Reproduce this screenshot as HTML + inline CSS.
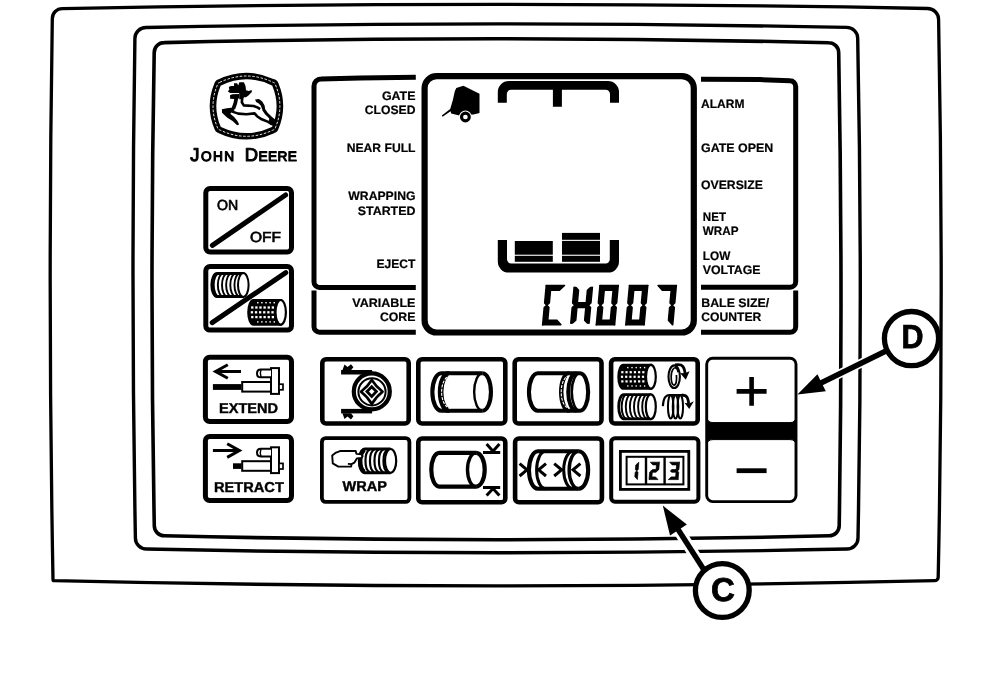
<!DOCTYPE html>
<html><head><meta charset="utf-8"><title>Monitor panel</title>
<style>
html,body{margin:0;padding:0;background:#fff;}
body{width:992px;height:692px;overflow:hidden;font-family:"Liberation Sans",sans-serif;}
svg{display:block;filter:grayscale(1);}
svg text{stroke:#000;stroke-width:0.2px;text-rendering:geometricPrecision;font-family:"Liberation Sans",sans-serif;fill:#000;}
</style></head><body>
<svg width="992" height="692" viewBox="0 0 992 692" shape-rendering="geometricPrecision">
<rect width="992" height="692" fill="#fff"/>
<path d="M62.3,8.6 Q494.95,0.25 927.6,8.5 A11,11 0 0 1 938.6,19.5 Q944.0,298.3 938.2,577.1 A3.5,3.5 0 0 1 934.7,580.6 Q494.45000000000005,590.9999999999999 54.2,580.6 A1.2,1.2 0 0 1 53,579.4 Q47.75000000000001,299.0 52.3,18.6 A10,10 0 0 1 62.3,8.6 Z" fill="none" stroke="#000" stroke-width="3.3" stroke-linejoin="miter"/>
<path d="M145.9,27.5 Q496.3,20.349999999999998 846.7,27.4 A11,11 0 0 1 857.7,38.4 Q862.7499999999999,288.2 858,538 A11,11 0 0 1 847,549 Q496.7,556.5999999999999 146.4,549 A11,11 0 0 1 135.4,538 Q130.85,288.25 134.9,38.5 A11,11 0 0 1 145.9,27.5 Z" fill="none" stroke="#000" stroke-width="3.4" stroke-linejoin="miter"/>
<path d="M164.2,42.6 Q496.45000000000005,34.94999999999999 828.7,42.7 A10,10 0 0 1 838.7,52.7 Q843.05,289.25 839.2,525.8 A10,10 0 0 1 829.2,535.8 Q496.75,543.6000000000001 164.3,535.8 A10,10 0 0 1 154.3,525.8 Q149.75,289.2 154.2,52.6 A10,10 0 0 1 164.2,42.6 Z" fill="none" stroke="#000" stroke-width="3.6" stroke-linejoin="miter"/>
<g id="logo">
<path d="M219.6,82.39999999999999 Q246.45,69.60000000000001 273.29999999999995,82.39999999999999 Q274.9,82.8 275.29999999999995,84.39999999999999 Q284.5,106.15 275.29999999999995,127.9 Q274.9,129.5 273.29999999999995,129.9 Q246.45,142.7 219.6,129.9 Q218.0,129.5 217.6,127.9 Q208.39999999999998,106.15 217.6,84.39999999999999 Q218.0,82.8 219.6,82.39999999999999 Z" fill="#fff" stroke="#000" stroke-width="6.6" stroke-linejoin="round"/>
<path d="M219.6,82.39999999999999 Q246.45,69.60000000000001 273.29999999999995,82.39999999999999 Q274.9,82.8 275.29999999999995,84.39999999999999 Q284.5,106.15 275.29999999999995,127.9 Q274.9,129.5 273.29999999999995,129.9 Q246.45,142.7 219.6,129.9 Q218.0,129.5 217.6,127.9 Q208.39999999999998,106.15 217.6,84.39999999999999 Q218.0,82.8 219.6,82.39999999999999 Z" fill="none" stroke="#fff" stroke-width="0.9" stroke-dasharray="2.6 1.6"/>
<path d="M227.88,91.60 L229.34,89.50 L228.77,87.07 L230.96,85.94 L234.03,86.10 L234.03,83.18 L237.11,83.18 L238.24,85.45 L239.38,82.37 L243.91,82.37 L245.53,86.10 L246.02,90.15 L248.77,91.12 L251.68,89.98 L251.85,91.93 L248.45,95.49 L246.02,97.27 L244.07,97.27 L242.29,99.21 L239.21,99.21 L239.21,93.06 L230.15,93.06 Z" fill="#000"/>
<path d="M229.98,95.17 L232.25,94.19 L239.21,94.03 L239.21,97.43 L237.92,99.21 L230.15,98.65 Z" fill="#000"/>
<path d="M236.46,97.43 L235.33,103.10 L233.38,108.61" fill="none" stroke="#000" stroke-width="3.7" stroke-linejoin="round"/>
<path d="M242.29,97.43 L241.81,102.29 L243.75,105.37 L253.63,106.02 L257.84,107.64 L260.11,109.09" fill="none" stroke="#000" stroke-width="2.6" stroke-linejoin="round"/>
<path d="M221.89,109.26 L226.91,108.28 L233.87,107.47 L234.52,110.55 L231.93,111.68 L230.31,113.63 L234.19,117.03 L237.43,120.91 L239.21,124.48 L237.11,125.13 L232.57,120.91 L227.07,117.51 L222.05,112.66 Z" fill="#000"/>
<path d="M231.60,111.36 L238.24,113.63 L246.34,114.19 L254.60,113.38 L257.03,116.22 L261.72,119.30 L268.20,121.89 L272.09,124.32" fill="none" stroke="#000" stroke-width="2.6" stroke-linejoin="round"/>
<path d="M255.09,99.54 L258.97,99.05 L262.21,101.48 L264.48,105.21 L265.13,108.45 L264.48,110.71 L262.21,109.42 L260.91,105.69 L258.49,103.26 L256.06,101.97 Z" fill="#000"/>
<path d="M263.34,109.09 L266.58,113.79 L270.79,117.84 L274.68,121.24" fill="none" stroke="#000" stroke-width="3" stroke-linejoin="round"/>
<path d="M269.82,116.87 L274.68,120.11 L274.68,127.39 L271.04,124.56 L268.61,121.72 Z" fill="#000"/>
</g>
<text x="190.3" y="161.0" font-weight="normal" textLength="43.8" lengthAdjust="spacing" style="stroke-width:1.05px;stroke-linejoin:round"><tspan font-size="18.4">J</tspan><tspan font-size="13.7">OHN</tspan></text>
<text x="244.8" y="161.0" font-weight="normal" textLength="52.0" lengthAdjust="spacing" style="stroke-width:1.05px;stroke-linejoin:round"><tspan font-size="18.4">D</tspan><tspan font-size="13.7">EERE</tspan></text>
<rect x="205.8" y="188.5" width="85.69999999999999" height="63.400000000000006" rx="4.2" ry="4.2" fill="#fff" stroke="#000" stroke-width="5"/>
<line x1="212.4" y1="245.4" x2="285.6" y2="195" stroke="#000" stroke-width="5" stroke-linecap="round"/>
<text x="216.9" y="209.7" font-size="14.6" font-weight="normal" text-anchor="start" textLength="21.2" lengthAdjust="spacingAndGlyphs" style="stroke-width:0.65px">ON</text>
<text x="249.9" y="241.7" font-size="14.6" font-weight="normal" text-anchor="start" textLength="31" lengthAdjust="spacingAndGlyphs" style="stroke-width:0.65px">OFF</text>
<rect x="205.8" y="266.5" width="85.69999999999999" height="63.60000000000002" rx="4.2" ry="4.2" fill="#fff" stroke="#000" stroke-width="5"/>
<path d="M243.29999999999998,273.5 L217.10000000000002,273.5 A5.3,11.5 0 0 0 217.10000000000002,296.5 L243.29999999999998,296.5" fill="#fff" stroke="#000" stroke-width="2.8"/>
<path d="M219.00,273.5 A5.3,11.5 0 0 0 219.00,296.5" fill="none" stroke="#000" stroke-width="1.9"/>
<path d="M223.15,273.5 A5.3,11.5 0 0 0 223.15,296.5" fill="none" stroke="#000" stroke-width="1.9"/>
<path d="M227.30,273.5 A5.3,11.5 0 0 0 227.30,296.5" fill="none" stroke="#000" stroke-width="1.9"/>
<path d="M231.45,273.5 A5.3,11.5 0 0 0 231.45,296.5" fill="none" stroke="#000" stroke-width="1.9"/>
<path d="M235.60,273.5 A5.3,11.5 0 0 0 235.60,296.5" fill="none" stroke="#000" stroke-width="1.9"/>
<path d="M239.75,273.5 A5.3,11.5 0 0 0 239.75,296.5" fill="none" stroke="#000" stroke-width="1.9"/>
<ellipse cx="243.29999999999998" cy="285" rx="5.3" ry="11.9" fill="#fff" stroke="#000" stroke-width="2.0"/>
<path d="M280.7,300.0 L253.49999999999997,300.0 A5.2,12.3 0 0 0 253.49999999999997,324.6 L280.7,324.6 Z" fill="#000" stroke="#000" stroke-width="2.2"/>
<rect x="257.06" y="301.99" width="1.43" height="1.43" fill="#fff"/><rect x="261.18" y="301.99" width="1.43" height="1.43" fill="#fff"/><rect x="265.30" y="301.99" width="1.43" height="1.43" fill="#fff"/><rect x="269.42" y="301.99" width="1.43" height="1.43" fill="#fff"/><rect x="273.54" y="301.99" width="1.43" height="1.43" fill="#fff"/><rect x="251.12" y="306.35" width="2.30" height="2.30" fill="#fff"/><rect x="255.24" y="306.35" width="2.30" height="2.30" fill="#fff"/><rect x="259.36" y="306.35" width="2.30" height="2.30" fill="#fff"/><rect x="263.48" y="306.35" width="2.30" height="2.30" fill="#fff"/><rect x="267.60" y="306.35" width="2.30" height="2.30" fill="#fff"/><rect x="271.72" y="306.35" width="2.30" height="2.30" fill="#fff"/><rect x="250.75" y="311.15" width="2.30" height="2.30" fill="#fff"/><rect x="254.87" y="311.15" width="2.30" height="2.30" fill="#fff"/><rect x="258.99" y="311.15" width="2.30" height="2.30" fill="#fff"/><rect x="263.11" y="311.15" width="2.30" height="2.30" fill="#fff"/><rect x="267.23" y="311.15" width="2.30" height="2.30" fill="#fff"/><rect x="271.35" y="311.15" width="2.30" height="2.30" fill="#fff"/><rect x="251.12" y="315.95" width="2.30" height="2.30" fill="#fff"/><rect x="255.24" y="315.95" width="2.30" height="2.30" fill="#fff"/><rect x="259.36" y="315.95" width="2.30" height="2.30" fill="#fff"/><rect x="263.48" y="315.95" width="2.30" height="2.30" fill="#fff"/><rect x="267.60" y="315.95" width="2.30" height="2.30" fill="#fff"/><rect x="271.72" y="315.95" width="2.30" height="2.30" fill="#fff"/><rect x="257.06" y="321.19" width="1.43" height="1.43" fill="#fff"/><rect x="261.18" y="321.19" width="1.43" height="1.43" fill="#fff"/><rect x="265.30" y="321.19" width="1.43" height="1.43" fill="#fff"/><rect x="269.42" y="321.19" width="1.43" height="1.43" fill="#fff"/><rect x="273.54" y="321.19" width="1.43" height="1.43" fill="#fff"/>
<ellipse cx="280.7" cy="312.3" rx="5.2" ry="12.3" fill="#fff" stroke="#000" stroke-width="2.2"/>
<line x1="212.2" y1="322.6" x2="285.8" y2="272.6" stroke="#000" stroke-width="5" stroke-linecap="round"/>
<path d="M415.8,77.3 L360,78 L321,78.9 A7,7 0 0 0 314,85.9 L314,281.9 A5.5,5.5 0 0 0 319.5,287.4 L415.8,287.4" fill="none" stroke="#000" stroke-width="5"/>
<path d="M314,290.5 L314,326.7 A5.5,5.5 0 0 0 319.5,332.2 L415.8,332.2" fill="none" stroke="#000" stroke-width="5"/>
<path d="M701,79.3 L760,79.6 L790,80.8 A5.7,5.7 0 0 1 795.7,86.5 L795.7,281.7 A5.5,5.5 0 0 1 790.2,287.2 L701,287.2" fill="none" stroke="#000" stroke-width="5"/>
<path d="M795.7,290.5 L795.7,326.8 A5.5,5.5 0 0 1 790.2,332.3 L701,332.3" fill="none" stroke="#000" stroke-width="5"/>
<rect x="424.6" y="76.1" width="269.2" height="256.4" rx="12" ry="12" fill="#fff" stroke="#000" stroke-width="6.2"/>
<text x="415.5" y="100.4" font-size="12.3" font-weight="bold" text-anchor="end" textLength="33.6" lengthAdjust="spacingAndGlyphs" >GATE</text>
<text x="415.5" y="114.4" font-size="12.3" font-weight="bold" text-anchor="end" textLength="50.7" lengthAdjust="spacingAndGlyphs" >CLOSED</text>
<text x="415.5" y="152.1" font-size="12.3" font-weight="bold" text-anchor="end" textLength="68.8" lengthAdjust="spacingAndGlyphs" >NEAR FULL</text>
<text x="415.5" y="200.1" font-size="12.3" font-weight="bold" text-anchor="end" textLength="67.2" lengthAdjust="spacingAndGlyphs" >WRAPPING</text>
<text x="415.5" y="214.8" font-size="12.3" font-weight="bold" text-anchor="end" textLength="57.8" lengthAdjust="spacingAndGlyphs" >STARTED</text>
<text x="415.5" y="268.1" font-size="12.3" font-weight="bold" text-anchor="end" textLength="39" lengthAdjust="spacingAndGlyphs" >EJECT</text>
<text x="415.5" y="306.9" font-size="12.3" font-weight="bold" text-anchor="end" textLength="63.3" lengthAdjust="spacingAndGlyphs" >VARIABLE</text>
<text x="415.5" y="320.9" font-size="12.3" font-weight="bold" text-anchor="end" textLength="35.6" lengthAdjust="spacingAndGlyphs" >CORE</text>
<text x="701" y="107.8" font-size="12.3" font-weight="bold" text-anchor="start" textLength="43.4" lengthAdjust="spacingAndGlyphs" >ALARM</text>
<text x="701" y="152.1" font-size="12.3" font-weight="bold" text-anchor="start" textLength="72.2" lengthAdjust="spacingAndGlyphs" >GATE OPEN</text>
<text x="701" y="189" font-size="12.3" font-weight="bold" text-anchor="start" textLength="61.8" lengthAdjust="spacingAndGlyphs" >OVERSIZE</text>
<text x="702.8" y="221.1" font-size="12.3" font-weight="bold" text-anchor="start" textLength="23.2" lengthAdjust="spacingAndGlyphs" >NET</text>
<text x="702.8" y="235" font-size="12.3" font-weight="bold" text-anchor="start" textLength="35.7" lengthAdjust="spacingAndGlyphs" >WRAP</text>
<text x="702.8" y="259.9" font-size="12.3" font-weight="bold" text-anchor="start" textLength="27.5" lengthAdjust="spacingAndGlyphs" >LOW</text>
<text x="702.8" y="274.1" font-size="12.3" font-weight="bold" text-anchor="start" textLength="57.8" lengthAdjust="spacingAndGlyphs" >VOLTAGE</text>
<text x="701.2" y="307.1" font-size="12.3" font-weight="bold" text-anchor="start" textLength="68.1" lengthAdjust="spacingAndGlyphs" >BALE SIZE/</text>
<text x="701.2" y="321.2" font-size="12.3" font-weight="bold" text-anchor="start" textLength="60.1" lengthAdjust="spacingAndGlyphs" >COUNTER</text>
<path d="M456.3,87.9 L463.4,85.7 L479.5,93.8 L479.5,113 L473.5,114.6 L459.3,115.6 L451.2,113.6 L450.6,111.2 L442.6,116.8 L441.8,115.4 L450.2,109 L452.8,100.3 L454.8,91.2 Z" fill="#000"/>
<circle cx="465.4" cy="117" r="6.4" fill="#fff"/>
<circle cx="465.4" cy="117" r="3.9" fill="#fff" stroke="#000" stroke-width="3.1"/>
<path d="M497.8,102.8 L497.8,92 A11,11 0 0 1 508.8,81 L608,81 A11,11 0 0 1 619,92 L619,102.8 L610,102.8 L610,94 A4.3,4.3 0 0 0 605.7,89.7 L561.9,89.7 L561.9,106.8 L552.9,106.8 L552.9,89.7 L511.1,89.7 A4.3,4.3 0 0 0 506.8,94 L506.8,102.8 Z" fill="#000"/>
<path d="M497.8,240 L497.8,261.6 A11,11 0 0 0 508.8,272.6 L608,272.6 A11,11 0 0 0 619,261.6 L619,240 L609.8,240 L609.8,259.2 A4.2,4.2 0 0 1 605.6,263.4 L511.2,263.4 A4.2,4.2 0 0 1 507,259.2 L507,240 Z" fill="#000"/>
<rect x="514.8" y="241" width="38" height="13.7" fill="#000"/>
<rect x="514.8" y="255.8" width="38" height="6" fill="#000"/>
<rect x="562" y="232.9" width="38" height="6.9" fill="#000"/>
<rect x="562" y="240.9" width="38" height="13.8" fill="#000"/>
<rect x="562" y="255.8" width="38" height="6" fill="#000"/>
<g transform="translate(0,325.6) skewX(-5.3) translate(0,-325.6)" fill="#000" stroke="#000" stroke-width="1.5" stroke-linejoin="round">
<clipPath id="hclip"><rect x="560" y="286.7" width="40" height="37.0"/></clipPath>
<polygon points="542.55,285.55 560.85,285.55 556.15,290.25 547.25,290.25"/><polygon points="542.55,285.55 547.25,290.25 547.25,302.85 544.90,305.20 542.55,302.85"/><polygon points="542.55,324.85 547.25,320.15 547.25,307.55 544.90,305.20 542.55,307.55"/><polygon points="542.55,324.85 560.85,324.85 556.15,320.15 547.25,320.15"/>
<g clip-path="url(#hclip)"><polygon points="570.55,285.55 575.25,290.25 575.25,302.85 572.90,305.20 570.55,302.85"/><polygon points="570.55,324.85 575.25,320.15 575.25,307.55 572.90,305.20 570.55,307.55"/><polygon points="572.90,305.20 575.25,302.85 584.15,302.85 586.50,305.20 584.15,307.55 575.25,307.55"/><polygon points="588.85,285.55 584.15,290.25 584.15,302.85 586.50,305.20 588.85,302.85"/><polygon points="588.85,324.85 584.15,320.15 584.15,307.55 586.50,305.20 588.85,307.55"/></g>
<polygon points="596.25,285.55 614.55,285.55 609.85,290.25 600.95,290.25"/><polygon points="614.55,285.55 609.85,290.25 609.85,302.85 612.20,305.20 614.55,302.85"/><polygon points="614.55,324.85 609.85,320.15 609.85,307.55 612.20,305.20 614.55,307.55"/><polygon points="596.25,324.85 614.55,324.85 609.85,320.15 600.95,320.15"/><polygon points="596.25,324.85 600.95,320.15 600.95,307.55 598.60,305.20 596.25,307.55"/><polygon points="596.25,285.55 600.95,290.25 600.95,302.85 598.60,305.20 596.25,302.85"/>
<polygon points="625.75,285.55 644.05,285.55 639.35,290.25 630.45,290.25"/><polygon points="644.05,285.55 639.35,290.25 639.35,302.85 641.70,305.20 644.05,302.85"/><polygon points="644.05,324.85 639.35,320.15 639.35,307.55 641.70,305.20 644.05,307.55"/><polygon points="625.75,324.85 644.05,324.85 639.35,320.15 630.45,320.15"/><polygon points="625.75,324.85 630.45,320.15 630.45,307.55 628.10,305.20 625.75,307.55"/><polygon points="625.75,285.55 630.45,290.25 630.45,302.85 628.10,305.20 625.75,302.85"/>
<polygon points="654.35,285.55 672.65,285.55 667.95,290.25 659.05,290.25"/><polygon points="672.65,285.55 667.95,290.25 667.95,302.85 670.30,305.20 672.65,302.85"/><polygon points="672.65,324.85 667.95,320.15 667.95,307.55 670.30,305.20 672.65,307.55"/>
</g>
<rect x="205.4" y="357.3" width="86.1" height="64.19999999999999" rx="4.2" ry="4.2" fill="#fff" stroke="#000" stroke-width="5"/>
<g transform="translate(0,0)">
<rect x="271" y="368.1" width="8" height="25.8" fill="#fff" stroke="#000" stroke-width="2"/>
<path d="M271,369.5 L260.8,369.5 Q257,369.5 257,373.4 Q257,377.3 260.8,377.3 L271,377.3" fill="#fff" stroke="#000" stroke-width="2"/>
<path d="M261,369.8 Q259.6,373.4 261,377" fill="none" stroke="#000" stroke-width="1.4"/>
<rect x="242.2" y="382" width="28.8" height="9.6" fill="#fff" stroke="#000" stroke-width="2"/>
<rect x="279" y="384.2" width="4" height="5.6" fill="#fff" stroke="#000" stroke-width="1.7"/>
</g>
<rect x="212.9" y="384.1" width="28.6" height="5.8" fill="#000"/>
<path d="M241,371.5 L216,371.5 M227.8,364.8 L215.6,371.5 L227.8,378.2" fill="none" stroke="#000" stroke-width="3" stroke-linejoin="miter"/>
<text x="219" y="412.7" font-size="14.3" font-weight="bold" text-anchor="start" textLength="59" lengthAdjust="spacingAndGlyphs" style="stroke-width:0.4px">EXTEND</text>
<rect x="205.4" y="436.5" width="86.1" height="64" rx="4.2" ry="4.2" fill="#fff" stroke="#000" stroke-width="5"/>
<g transform="translate(0,79.2)">
<rect x="271" y="368.1" width="8" height="25.8" fill="#fff" stroke="#000" stroke-width="2"/>
<path d="M271,369.5 L260.8,369.5 Q257,369.5 257,373.4 Q257,377.3 260.8,377.3 L271,377.3" fill="#fff" stroke="#000" stroke-width="2"/>
<path d="M261,369.8 Q259.6,373.4 261,377" fill="none" stroke="#000" stroke-width="1.4"/>
<rect x="242.2" y="382" width="28.8" height="9.6" fill="#fff" stroke="#000" stroke-width="2"/>
<rect x="279" y="384.2" width="4" height="5.6" fill="#fff" stroke="#000" stroke-width="1.7"/>
</g>
<rect x="233" y="463.3" width="8.6" height="5.6" fill="#000"/>
<path d="M212.9,450.6 L238,450.6 M227.2,443.8 L239.4,450.6 L227.2,457.4" fill="none" stroke="#000" stroke-width="3" stroke-linejoin="miter"/>
<text x="213.9" y="491.8" font-size="14.3" font-weight="bold" text-anchor="start" textLength="70" lengthAdjust="spacingAndGlyphs" style="stroke-width:0.4px">RETRACT</text>
<rect x="322.3" y="359.3" width="86.4" height="64.20000000000002" rx="3.8" ry="3.8" fill="#fff" stroke="#000" stroke-width="4.6"/>
<circle cx="371.8" cy="391.4" r="18" fill="#fff" stroke="#000" stroke-width="4.2"/>
<circle cx="372" cy="391.8" r="13.6" fill="none" stroke="#000" stroke-width="2"/>
<path d="M371.8,380 Q375.8,386.4 382.6,391.7 Q375.8,397 371.8,404 Q367.8,397 361,391.7 Q367.8,386.4 371.8,380 Z" fill="none" stroke="#000" stroke-width="2.6" stroke-linejoin="round"/>
<path d="M371.7,386.8 L376.4,391.6 L371.7,396.4 L367,391.6 Z" fill="none" stroke="#000" stroke-width="2.8"/>
<rect x="341.1" y="370" width="31" height="4.5" fill="#000"/>
<rect x="341.1" y="408.9" width="31" height="4.5" fill="#000"/>
<path d="M342.4,370.2 L344.5,364.5 L347.5,367 L351,364.2 L353.4,367.2 L351,370.2 Z" fill="#000"/>
<path d="M342.4,413.2 L344.5,419 L347.5,416.4 L351,419.4 L353.4,416.2 L351,413.2 Z" fill="#000"/>
<clipPath id="cr1"><rect x="420" y="371.2" width="180" height="41.6"/></clipPath>
<rect x="418.3" y="359.3" width="87.00000000000003" height="64.20000000000002" rx="3.8" ry="3.8" fill="#fff" stroke="#000" stroke-width="4.6"/>
<path d="M482.55,373.25 L441.35,373.25 A9,18.75 0 0 0 441.35,410.75 L482.55,410.75" fill="#fff" stroke="#000" stroke-width="4.1"/>
<path d="M482.55,373.25 A8.4,18.75 0 0 1 482.55,410.75" fill="none" stroke="#000" stroke-width="4.1"/>
<path d="M482.55,373.25 A8.4,18.75 0 0 0 482.55,410.75" fill="none" stroke="#000" stroke-width="2.4" transform=""/>
<path clip-path="url(#cr1)" d="M449.6,373.25 A9,18.75 0 0 0 449.6,410.75" fill="none" stroke="#000" stroke-width="5.6"/>
<path d="M450.6,375.75 A9,16.25 0 0 0 450.6,408.25" fill="none" stroke="#fff" stroke-width="1.1" stroke-dasharray="3 1.2"/>
<rect x="514.6999999999999" y="359.3" width="86.79999999999998" height="64.20000000000002" rx="3.8" ry="3.8" fill="#fff" stroke="#000" stroke-width="4.6"/>
<path d="M579.95,373.25 L537.9499999999999,373.25 A9,18.75 0 0 0 537.9499999999999,410.75 L579.95,410.75" fill="#fff" stroke="#000" stroke-width="4.1"/>
<path d="M579.95,373.25 A8.2,18.75 0 0 1 579.95,410.75" fill="none" stroke="#000" stroke-width="4.1"/>
<path d="M579.95,373.25 A8.2,18.75 0 0 0 579.95,410.75" fill="none" stroke="#000" stroke-width="2.6"/>
<path clip-path="url(#cr1)" d="M576.4,373.25 A8.2,18.75 0 0 0 576.4,410.75" fill="none" stroke="#000" stroke-width="4"/>
<path clip-path="url(#cr1)" d="M569.4,373.25 A8.2,18.75 0 0 0 569.4,410.75" fill="none" stroke="#000" stroke-width="4.4"/>
<path d="M569.4,375.75 A8.2,16.25 0 0 0 569.4,408.25" fill="none" stroke="#fff" stroke-width="1.1" stroke-dasharray="3 1.2"/>
<rect x="611.0999999999999" y="359.3" width="86.60000000000005" height="64.20000000000002" rx="3.8" ry="3.8" fill="#fff" stroke="#000" stroke-width="4.6"/>
<path d="M650.9,364.90000000000003 L623.3,364.90000000000003 A4.9,11.9 0 0 0 623.3,388.7 L650.9,388.7 Z" fill="#000" stroke="#000" stroke-width="2.2"/>
<rect x="627.13" y="366.92" width="1.36" height="1.36" fill="#fff"/><rect x="631.33" y="366.92" width="1.36" height="1.36" fill="#fff"/><rect x="635.53" y="366.92" width="1.36" height="1.36" fill="#fff"/><rect x="639.73" y="366.92" width="1.36" height="1.36" fill="#fff"/><rect x="643.93" y="366.92" width="1.36" height="1.36" fill="#fff"/><rect x="621.24" y="371.10" width="2.20" height="2.20" fill="#fff"/><rect x="625.44" y="371.10" width="2.20" height="2.20" fill="#fff"/><rect x="629.64" y="371.10" width="2.20" height="2.20" fill="#fff"/><rect x="633.84" y="371.10" width="2.20" height="2.20" fill="#fff"/><rect x="638.04" y="371.10" width="2.20" height="2.20" fill="#fff"/><rect x="642.24" y="371.10" width="2.20" height="2.20" fill="#fff"/><rect x="620.90" y="375.70" width="2.20" height="2.20" fill="#fff"/><rect x="625.10" y="375.70" width="2.20" height="2.20" fill="#fff"/><rect x="629.30" y="375.70" width="2.20" height="2.20" fill="#fff"/><rect x="633.50" y="375.70" width="2.20" height="2.20" fill="#fff"/><rect x="637.70" y="375.70" width="2.20" height="2.20" fill="#fff"/><rect x="641.90" y="375.70" width="2.20" height="2.20" fill="#fff"/><rect x="621.24" y="380.30" width="2.20" height="2.20" fill="#fff"/><rect x="625.44" y="380.30" width="2.20" height="2.20" fill="#fff"/><rect x="629.64" y="380.30" width="2.20" height="2.20" fill="#fff"/><rect x="633.84" y="380.30" width="2.20" height="2.20" fill="#fff"/><rect x="638.04" y="380.30" width="2.20" height="2.20" fill="#fff"/><rect x="642.24" y="380.30" width="2.20" height="2.20" fill="#fff"/><rect x="627.13" y="385.32" width="1.36" height="1.36" fill="#fff"/><rect x="631.33" y="385.32" width="1.36" height="1.36" fill="#fff"/><rect x="635.53" y="385.32" width="1.36" height="1.36" fill="#fff"/><rect x="639.73" y="385.32" width="1.36" height="1.36" fill="#fff"/><rect x="643.93" y="385.32" width="1.36" height="1.36" fill="#fff"/>
<ellipse cx="650.9" cy="376.8" rx="4.9" ry="11.9" fill="#fff" stroke="#000" stroke-width="2.2"/>
<path d="M650.8,394.59999999999997 L623.6999999999999,394.59999999999997 A5.0,12.1 0 0 0 623.6999999999999,418.8 L650.8,418.8" fill="#fff" stroke="#000" stroke-width="2.8"/>
<path d="M626.70,394.59999999999997 A5.0,12.1 0 0 0 626.70,418.8" fill="none" stroke="#000" stroke-width="1.9"/>
<path d="M630.80,394.59999999999997 A5.0,12.1 0 0 0 630.80,418.8" fill="none" stroke="#000" stroke-width="1.9"/>
<path d="M634.90,394.59999999999997 A5.0,12.1 0 0 0 634.90,418.8" fill="none" stroke="#000" stroke-width="1.9"/>
<path d="M639.00,394.59999999999997 A5.0,12.1 0 0 0 639.00,418.8" fill="none" stroke="#000" stroke-width="1.9"/>
<path d="M643.10,394.59999999999997 A5.0,12.1 0 0 0 643.10,418.8" fill="none" stroke="#000" stroke-width="1.9"/>
<path d="M647.20,394.59999999999997 A5.0,12.1 0 0 0 647.20,418.8" fill="none" stroke="#000" stroke-width="1.9"/>
<ellipse cx="650.8" cy="406.7" rx="5.0" ry="12.4" fill="#fff" stroke="#000" stroke-width="2.2"/>
<ellipse cx="674.2" cy="376.7" rx="5.7" ry="11.3" fill="none" stroke="#000" stroke-width="2.1"/>
<path d="M676.42,374.98 Q676.80,379.47 676.18,382.19 Q675.56,384.91 674.13,385.05 Q672.70,385.19 671.89,382.81 Q671.08,380.42 671.17,376.37 Q671.27,372.31 672.60,369.83 Q673.94,367.35 675.56,367.83 Q677.18,368.31 677.66,370.31 L678.14,372.31" fill="none" stroke="#000" stroke-width="1.7"/>
<path d="M675.08,364.87 Q681.00,363.92 682.81,366.30 Q684.63,368.69 684.86,371.69 L685.10,374.70" fill="none" stroke="#000" stroke-width="2.8"/>
<path d="M680.05,373.08 L684.63,373.27 L689.59,371.17 L685.77,379.76 Z" fill="#000"/>
<ellipse cx="670.7" cy="406.8" rx="2.75" ry="11.6" fill="none" stroke="#000" stroke-width="2"/>
<ellipse cx="675.5" cy="406.8" rx="2.75" ry="11.6" fill="none" stroke="#000" stroke-width="2"/>
<ellipse cx="680.3" cy="406.8" rx="2.75" ry="11.6" fill="none" stroke="#000" stroke-width="2"/>
<path d="M662.87,406.19 Q663.44,399.03 665.35,397.03 Q667.26,395.02 669.26,395.02 L671.27,395.02 L684,395" fill="none" stroke="#000" stroke-width="2.2"/>
<path d="M681.76,395.02 Q686.34,395.40 687.30,397.69 Q688.25,399.98 688.44,401.89 L688.63,403.80" fill="none" stroke="#000" stroke-width="2.8"/>
<path d="M684.44,402.85 L688.92,403.61 L693.88,401.13 L689.21,409.05 Z" fill="#000"/>
<rect x="321.9" y="438.09999999999997" width="87.50000000000001" height="63.800000000000026" rx="3.8" ry="3.8" fill="#fff" stroke="#000" stroke-width="3.8"/>
<path d="M390.6,449 L365,449 A6,12 0 0 0 365,472.8 L390.6,472.8" fill="#fff" stroke="#000" stroke-width="3"/>
<path d="M369.8,449.6 A5.6,11.6 0 0 0 369.8,472.2" fill="none" stroke="#000" stroke-width="2.2"/>
<path d="M374.3,449.6 A5.6,11.6 0 0 0 374.3,472.2" fill="none" stroke="#000" stroke-width="2.2"/>
<path d="M378.8,449.6 A5.6,11.6 0 0 0 378.8,472.2" fill="none" stroke="#000" stroke-width="2.2"/>
<path d="M383.3,449.6 A5.6,11.6 0 0 0 383.3,472.2" fill="none" stroke="#000" stroke-width="2.2"/>
<path d="M387.8,449.6 A5.6,11.6 0 0 0 387.8,472.2" fill="none" stroke="#000" stroke-width="2.2"/>
<path d="M364.4,449.8 A6,11.6 0 0 0 364.4,472" fill="none" stroke="#000" stroke-width="4.6"/>
<ellipse cx="390.6" cy="460.9" rx="5.6" ry="11.9" fill="#fff" stroke="#000" stroke-width="2.2"/>
<path d="M336.03,452.54 L339.97,451.07 L355.75,451.07 L356.42,453.89 L361.27,454.23 L362.62,456.14 L361.38,458.06 L356.87,458.39 L354.28,462.68 L351.58,464.03 L351.13,466.62 L338.28,466.62 L332.76,463.35 L332.20,455.46 Z" fill="#fff" stroke="#000" stroke-width="1.9" stroke-linejoin="round"/>
<path d="M351.58,464.03 L347.86,463.92" fill="none" stroke="#000" stroke-width="1.7"/>
<text x="342.6" y="491.4" font-size="14.3" font-weight="bold" text-anchor="start" textLength="44.4" lengthAdjust="spacingAndGlyphs" style="stroke-width:0.4px">WRAP</text>
<rect x="418.3" y="438.5" width="87.00000000000003" height="63.80000000000003" rx="3.8" ry="3.8" fill="#fff" stroke="#000" stroke-width="4.6"/>
<path d="M476.09999999999997,452.8 L439.3,452.8 A8,16.9 0 0 0 439.3,486.59999999999997 L476.09999999999997,486.59999999999997" fill="#fff" stroke="#000" stroke-width="4.2"/>
<path d="M476.09999999999997,452.8 A8.6,16.9 0 0 1 476.09999999999997,486.59999999999997" fill="none" stroke="#000" stroke-width="4.2"/>
<path d="M476.09999999999997,452.8 A8.6,16.899999999999977 0 0 0 476.09999999999997,486.59999999999997" fill="none" stroke="#000" stroke-width="3.4"/>
<path d="M483,452.4 L500.2,452.4 M486.6,444 L493,451.2 L499.4,444" fill="none" stroke="#000" stroke-width="3"/>
<path d="M483,487.4 L500.2,487.4 M486.6,495.6 L493,488.6 L499.4,495.6" fill="none" stroke="#000" stroke-width="3"/>
<rect x="515.0999999999999" y="438.5" width="86.8000000000001" height="63.80000000000003" rx="3.8" ry="3.8" fill="#fff" stroke="#000" stroke-width="4.6"/>
<path d="M578.6500000000001,451.25 L537.9499999999999,451.25 A9,18.75 0 0 0 537.9499999999999,488.75 L578.6500000000001,488.75" fill="#fff" stroke="#000" stroke-width="4.1"/>
<path d="M578.6500000000001,451.25 A9.5,18.75 0 0 1 578.6500000000001,488.75" fill="none" stroke="#000" stroke-width="4.1"/>
<path d="M578.6500000000001,451.25 A9.5,18.75 0 0 0 578.6500000000001,488.75" fill="none" stroke="#000" stroke-width="3.4"/>
<path d="M573.2,451.25 A9.5,18.75 0 0 0 573.2,488.75" fill="none" stroke="#000" stroke-width="3"/>
<path d="M545.6,451.25 A9,18.75 0 0 0 545.6,488.75" fill="none" stroke="#000" stroke-width="3"/>
<path d="M519.6,463.6 L527,469.8 L519.6,476.0" fill="none" stroke="#000" stroke-width="3"/>
<path d="M546.0,463.6 L538.6,469.8 L546.0,476.0" fill="none" stroke="#000" stroke-width="3"/>
<path d="M554.2,463.6 L561.6,469.8 L554.2,476.0" fill="none" stroke="#000" stroke-width="3"/>
<path d="M580.4,463.6 L573,469.8 L580.4,476.0" fill="none" stroke="#000" stroke-width="3"/>
<rect x="611.2" y="438.2" width="87.19999999999993" height="63.60000000000002" rx="3.8" ry="3.8" fill="#fff" stroke="#000" stroke-width="4"/>
<rect x="620.4" y="451.4" width="68.4" height="38" fill="#fff" stroke="#000" stroke-width="2.8"/>
<rect x="626.6" y="456.8" width="56.8" height="27.6" fill="#fff" stroke="#000" stroke-width="2"/>
<line x1="646" y1="456.8" x2="646" y2="484.4" stroke="#000" stroke-width="2.4"/>
<line x1="664.6" y1="456.8" x2="664.6" y2="484.4" stroke="#000" stroke-width="2.4"/>
<g transform="translate(0,479.8) skewX(-4.5) translate(0,-479.8)" fill="#000" stroke="#000" stroke-width="0.7" stroke-linejoin="round">
<polygon points="637.40,462.20 634.60,465.00 634.60,469.50 636.00,470.90 637.40,469.50"/><polygon points="637.40,479.60 634.60,476.80 634.60,472.30 636.00,470.90 637.40,472.30"/>
<polygon points="649.00,462.20 658.00,462.20 655.30,464.90 651.70,464.90"/><polygon points="658.00,462.20 655.30,464.90 655.30,469.55 656.65,470.90 658.00,469.55"/><polygon points="650.35,470.90 651.70,469.55 655.30,469.55 656.65,470.90 655.30,472.25 651.70,472.25"/><polygon points="649.00,479.60 651.70,476.90 651.70,472.25 650.35,470.90 649.00,472.25"/><polygon points="649.00,479.60 658.00,479.60 655.30,476.90 651.70,476.90"/>
<polygon points="668.30,462.20 678.10,462.20 675.40,464.90 671.00,464.90"/><polygon points="678.10,462.20 675.40,464.90 675.40,469.55 676.75,470.90 678.10,469.55"/><polygon points="669.65,470.90 671.00,469.55 675.40,469.55 676.75,470.90 675.40,472.25 671.00,472.25"/><polygon points="678.10,479.60 675.40,476.90 675.40,472.25 676.75,470.90 678.10,472.25"/><polygon points="668.30,479.60 678.10,479.60 675.40,476.90 671.00,476.90"/>
</g>
<rect x="706.7" y="358.2" width="89.3" height="143.4" rx="6" ry="6" fill="#fff" stroke="#000" stroke-width="2.9"/>
<path d="M706.6,417 Q707.4,422.6 713,422.6 L790,422.6 Q795.4,422.6 796.1,417 L796.1,445 Q795.4,439.6 790,439.6 L713,439.6 Q707.4,439.6 706.6,445 Z" fill="#000" stroke="#000" stroke-width="1"/>
<path d="M736.6,391.4 L766.6,391.4 M751.6,377 L751.6,405.8" stroke="#000" stroke-width="4.6" fill="none"/>
<path d="M736.6,470.7 L766.6,470.7" stroke="#000" stroke-width="4.8" fill="none"/>
<line x1="890" y1="349" x2="819.83" y2="383.56" stroke="#fff" stroke-width="8.8"/>
<line x1="890" y1="349" x2="818.93" y2="384.00" stroke="#000" stroke-width="5.6"/>
<polygon points="797.4,394.6 817.43,374.15 825.82,391.19" fill="#000"/>
<circle cx="911.5" cy="338.6" r="27.1" fill="#fff" stroke="#000" stroke-width="5.3"/>
<text x="912.6" y="348.4" font-size="33.4" font-weight="bold" text-anchor="middle" textLength="22.0" lengthAdjust="spacingAndGlyphs" style="stroke-width:0.8px">D</text>
<line x1="706" y1="573" x2="677.37" y2="528.33" stroke="#fff" stroke-width="11.4"/>
<line x1="706" y1="573" x2="676.83" y2="527.49" stroke="#000" stroke-width="5.4"/>
<polygon points="662.8,505.6 686.87,524.62 670.03,535.41" fill="#000"/>
<circle cx="722.3" cy="590.5" r="26.9" fill="#fff" stroke="#000" stroke-width="5.3"/>
<text x="723.0" y="600.5" font-size="33" font-weight="bold" text-anchor="middle" style="stroke-width:0.8px">C</text>
</svg>
</body></html>
